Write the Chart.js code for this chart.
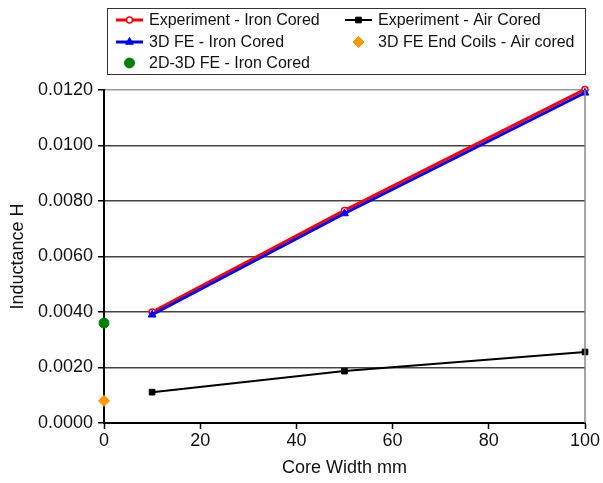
<!DOCTYPE html>
<html>
<head>
<meta charset="utf-8">
<script src="https://cdn.jsdelivr.net/npm/chart.js@4/dist/chart.umd.min.js"></script>
<style>
  html, body { margin: 0; padding: 0; background: #fff; }
  #wrap { width: 603px; height: 483px; position: relative; }
</style>
</head>
<body>
<div id="wrap"><canvas id="inductChart"></canvas></div>
<script>
// --- data ---
const coreWidths = [10, 50, 100];
const expIron = [0.0040, 0.00766, 0.01202];
const feIron = [0.0039, 0.00755, 0.01190];
const expAir = [0.00111, 0.00187, 0.00256];
const fe2dIron = [0.0036];      // at width 0
const feEndAir = [0.00080];     // at width 0
const yTicks = [0, 0.002, 0.004, 0.006, 0.008, 0.010, 0.012];

const FONT = '"Liberation Sans", Arial, sans-serif';

function pts(xs, ys) {
    return ys.map((y, i) => ({ x: xs[i], y: y }));
}

// legend drawn in two columns, like the original
const legendBox = {
    id: 'legendBox',
    afterDraw(chart) {
        const ctx = chart.ctx;
        ctx.save();
        ctx.strokeStyle = '#333';
        ctx.lineWidth = 1;
        ctx.strokeRect(107.5, 8.5, 478, 66);
        const cols = [116, 345];
        const rows = [20, 42, 63];
        const order = [0, 3, 1, 4, 2];
        order.forEach((dsIndex, k) => {
            const ds = chart.data.datasets[dsIndex];
            const cx = cols[k % 2];
            const cy = rows[Math.floor(k / 2)];
            if (ds.showLine !== false) {
                ctx.strokeStyle = ds.borderColor;
                ctx.lineWidth = ds.borderWidth;
                ctx.beginPath();
                ctx.moveTo(cx, cy);
                ctx.lineTo(cx + 27, cy);
                ctx.stroke();
            }
            ctx.fillStyle = ds.pointBackgroundColor;
            ctx.strokeStyle = ds.pointBorderColor;
            ctx.lineWidth = ds.pointBorderWidth || 1;
            Chart.helpers.drawPoint(ctx, {
                pointStyle: ds.pointStyle,
                radius: ds.pointRadius,
                borderWidth: ds.pointBorderWidth || 1
            }, cx + 13.5, cy);
            ctx.fillStyle = '#111';
            ctx.font = '16px ' + FONT;
            ctx.textBaseline = 'middle';
            ctx.fillText(ds.label, cx + 33, cy + 1);
        });
        // right frame line of the plot area
        const a = chart.chartArea;
        ctx.strokeStyle = '#888';
        ctx.lineWidth = 1.5;
        ctx.beginPath();
        ctx.moveTo(a.right, a.top);
        ctx.lineTo(a.right, a.bottom);
        ctx.stroke();
        ctx.restore();
    }
};

const ctx = document.getElementById('inductChart').getContext('2d');
new Chart(ctx, {
    type: 'line',
    data: {
        datasets: [
            {
                label: 'Experiment - Iron Cored',
                data: pts(coreWidths, expIron),
                borderColor: '#ff0000',
                borderWidth: 3,
                pointStyle: 'circle',
                pointRadius: 3,
                pointBackgroundColor: '#ffffff',
                pointBorderColor: '#ff0000',
                pointBorderWidth: 1.5,
                order: 2
            },
            {
                label: '3D FE - Iron Cored',
                data: pts(coreWidths, feIron),
                borderColor: '#0000ff',
                borderWidth: 3,
                pointStyle: 'triangle',
                pointRadius: 4.5,
                pointBackgroundColor: '#0000ff',
                pointBorderColor: '#0000ff',
                pointBorderWidth: 1,
                order: 1
            },
            {
                label: '2D-3D FE - Iron Cored',
                data: pts([0], fe2dIron),
                showLine: false,
                borderColor: '#008000',
                borderWidth: 0,
                pointStyle: 'circle',
                pointRadius: 5,
                pointBackgroundColor: '#008000',
                pointBorderColor: '#008000',
                pointBorderWidth: 1,
                order: 0
            },
            {
                label: 'Experiment - Air Cored',
                data: pts(coreWidths, expAir),
                borderColor: '#000000',
                borderWidth: 2,
                pointStyle: 'rect',
                pointRadius: 4,
                pointBackgroundColor: '#000000',
                pointBorderColor: '#000000',
                pointBorderWidth: 1,
                order: 3
            },
            {
                label: '3D FE End Coils - Air cored',
                data: pts([0], feEndAir),
                showLine: false,
                borderColor: '#ff9900',
                borderWidth: 0,
                pointStyle: 'rectRot',
                pointRadius: 5.5,
                pointBackgroundColor: '#ff9900',
                pointBorderColor: '#ff9900',
                pointBorderWidth: 1,
                order: 0
            }
        ]
    },
    options: {
        responsive: true,
        maintainAspectRatio: false,
        animation: false,
        clip: false,
        layout: { padding: { top: 90, right: 18, left: 7, bottom: 0 } },
        plugins: {
            legend: { display: false },
            tooltip: { enabled: false }
        },
        scales: {
            x: {
                type: 'linear',
                min: 0,
                max: 100,
                ticks: {
                    stepSize: 20,
                    color: '#111',
                    font: { family: FONT, size: 18 },
                    padding: 1
                },
                grid: {
                    drawOnChartArea: false,
                    tickLength: 6,
                    tickColor: '#000',
                    tickWidth: 1.5
                },
                border: { color: '#000', width: 2 },
                title: {
                    display: true,
                    text: 'Core Width mm',
                    color: '#111',
                    font: { family: FONT, size: 18 },
                    padding: { top: 2 }
                },
                afterFit(scale) { scale.height = 60; }
            },
            y: {
                min: 0,
                max: 0.012,
                afterBuildTicks(scale) {
                    scale.ticks = yTicks.map(v => ({ value: v }));
                },
                ticks: {
                    color: '#111',
                    font: { family: FONT, size: 18 },
                    padding: 5,
                    callback: v => v.toFixed(4)
                },
                grid: {
                    color: ctx2 => ctx2.tick && ctx2.tick.value === 0.012 ? '#999' : '#444',
                    lineWidth: 1.5,
                    tickLength: 6,
                    tickColor: '#000'
                },
                border: { color: '#000', width: 2 },
                title: {
                    display: true,
                    text: 'Inductance H',
                    color: '#111',
                    font: { family: FONT, size: 18 },
                    padding: { top: 0, bottom: 4 }
                },
                afterFit(scale) { scale.width = 97; }
            }
        }
    },
    plugins: [legendBox]
});
</script>
</body>
</html>
